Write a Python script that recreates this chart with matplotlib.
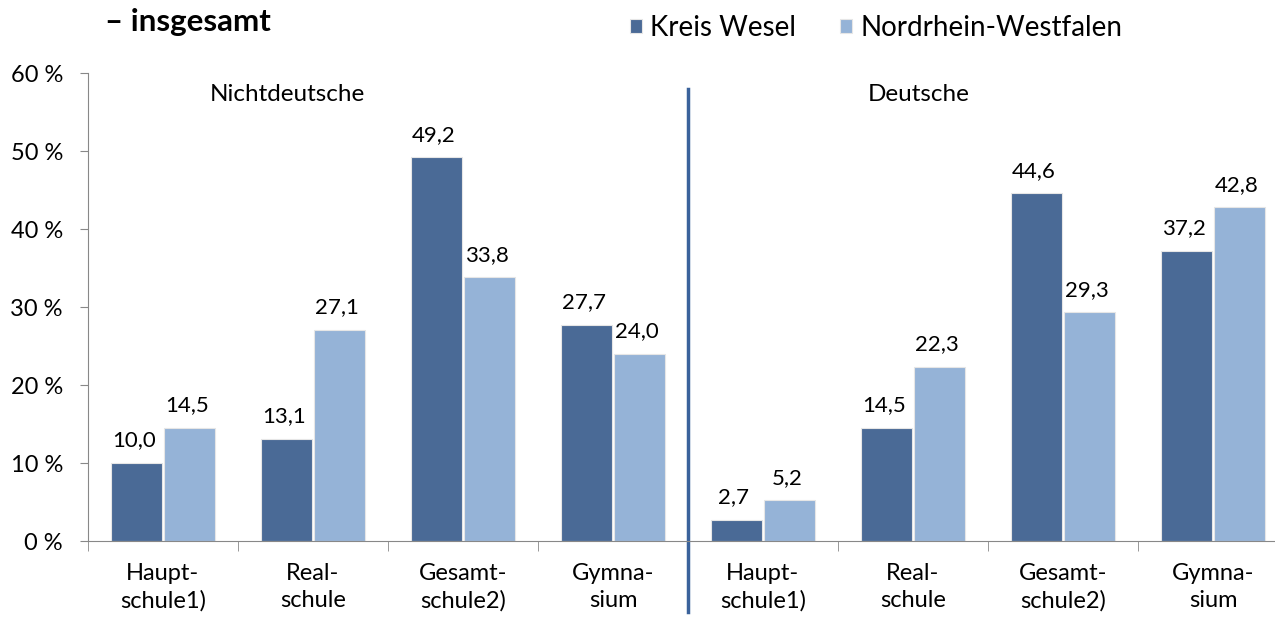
import numpy as np
import matplotlib.pyplot as plt

categories = ['Haupt-\nschule1)', 'Real-\nschule', 'Gesamt-\nschule2)', 'Gymna-\nsium',
              'Haupt-\nschule1)', 'Real-\nschule', 'Gesamt-\nschule2)', 'Gymna-\nsium']
wesel = [10.0, 13.1, 49.2, 27.7, 2.7, 14.5, 44.6, 37.2]
nrw = [14.5, 27.1, 33.8, 24.0, 5.2, 22.3, 29.3, 42.8]
groups = ['Nichtdeutsche', 'Deutsche']
series = ['Kreis Wesel', 'Nordrhein-Westfalen']

plt.rcParams['font.family'] = ['Lato', 'DejaVu Sans']
dark = '#4A6A96'
light = '#95B3D7'

fig = plt.figure(figsize=(12.75, 6.19), dpi=100)
ax = fig.add_axes([88/1275, 78/619, 1200/1275, 468/619])

x = np.arange(len(categories))
w = 0.34
off = 0.177
b1 = ax.bar(x - off, wesel, w, color=dark, edgecolor='#E6E6E6', linewidth=0.8, label=series[0])
b2 = ax.bar(x + off, nrw, w, color=light, edgecolor='#E6E6E6', linewidth=0.8, label=series[1])

fmt = lambda v: ('%.1f' % v).replace('.', ',')
for xs, vals in ((x - off, wesel), (x + off, nrw)):
    for xi, v in zip(xs, vals):
        ax.annotate(fmt(v), (xi, v), xytext=(-2, 9), textcoords='offset points',
                    ha='center', va='bottom', fontsize=16)

ax.set_xlim(-0.5, 7.5)
ax.set_ylim(0, 60)
ax.set_yticks(range(0, 61, 10))
ax.set_yticklabels(['%d %%' % v for v in range(0, 61, 10)], fontsize=17)
ax.set_xticks(x)
ax.set_xticklabels(categories, fontsize=17, linespacing=1.35)
ax.tick_params(axis='x', length=0, pad=16)
ax.set_xticks(np.arange(-0.5, 8, 1), minor=True)
ax.tick_params(axis='x', which='minor', length=7, color='#888888')
ax.tick_params(axis='y', length=6, color='#888888', pad=12)

for s in ('top', 'right'):
    ax.spines[s].set_visible(False)
ax.spines['left'].set_color('#888888')
ax.spines['bottom'].set_color('#888888')

ax.axvline(3.5, ymin=-0.152, ymax=0.966, clip_on=False, color='#3A629B', linewidth=2.5)

ax.text(0.83, 57.2, groups[0], ha='center', va='center', fontsize=17.5)
ax.text(5.04, 57.2, groups[1], ha='center', va='center', fontsize=17.5)

fig.text(105/1275, 1 - 22/619, '– insgesamt', fontsize=22.5, fontweight='bold', va='center')
fig.legend(handles=[b1, b2], loc='center left', bbox_to_anchor=(605/1275, 1 - 28/619),
           ncol=2, frameon=False, fontsize=20, handlelength=0.42, handleheight=0.42,
           handletextpad=0.3, columnspacing=1.6)

fig.savefig('out.png', dpi=100)
